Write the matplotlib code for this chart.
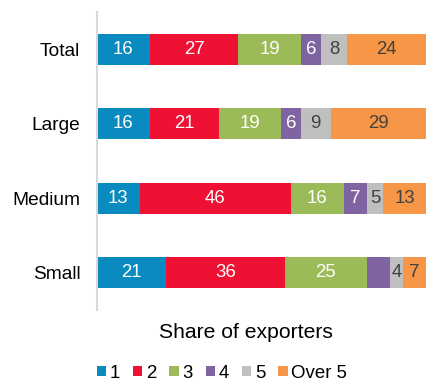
import matplotlib
matplotlib.use("Agg")
import matplotlib.pyplot as plt
import numpy as np

plt.rcParams['font.family'] = ['Liberation Sans', 'DejaVu Sans']

# === Data ===
categories = ["Total", "Large", "Medium", "Small"]
series_names = ["1", "2", "3", "4", "5", "Over 5"]
shares = {
    "1": [16, 16, 13, 21],
    "2": [27, 21, 46, 36],
    "3": [19, 19, 16, 25],
    "4": [6, 6, 7, 7],
    "5": [8, 9, 5, 4],
    "Over 5": [24, 29, 13, 7],
}
# the small firms' "4" segment carries no label
hidden_labels = {("4", "Small")}

colors = ["#0a8bc0", "#ee1133", "#9bbb59", "#8064a2", "#bfbfbf", "#f79646"]
text_colors = ["white", "white", "white", "white", "#404040", "#404040"]

fig = plt.figure(figsize=(4.26, 3.81), dpi=100)
ax = fig.add_axes([97 / 426, 1 - 310 / 381, 1 - 97 / 426, (310 - 12) / 381])

y = np.arange(len(categories))
left = np.zeros(len(categories))
for name, col, tcol in zip(series_names, colors, text_colors):
    vals = np.array(shares[name], dtype=float)
    bars = ax.barh(y, vals, left=left, height=0.41, color=col, label=name)
    labels = ["" if (name, c) in hidden_labels else str(v)
              for c, v in zip(categories, shares[name])]
    ax.bar_label(bars, labels=labels, label_type='center', color=tcol, fontsize=13.4)
    left += vals

ax.set_xlim(0, 100)
ax.set_ylim(len(categories) - 0.5, -0.5)
ax.set_yticks(y)
ax.set_yticklabels(categories, fontsize=13.8)
ax.tick_params(axis='y', length=0, pad=12)
ax.set_xticks([])
for side in ["top", "right", "bottom"]:
    ax.spines[side].set_visible(False)
ax.spines["left"].set_color("#d9d9d9")
ax.spines["left"].set_linewidth(1.5)

fig.text(246 / 426, 1 - 333 / 381, "Share of exporters", ha='center', va='center', fontsize=15.2)

fig.legend(loc='center', bbox_to_anchor=(222 / 426, 1 - 373 / 381), ncol=6, frameon=False,
           fontsize=13.4, handlelength=0.5, handleheight=0.5, handletextpad=0.2,
           columnspacing=0.7, borderpad=0, borderaxespad=0)

fig.savefig("out.png", dpi=100)
